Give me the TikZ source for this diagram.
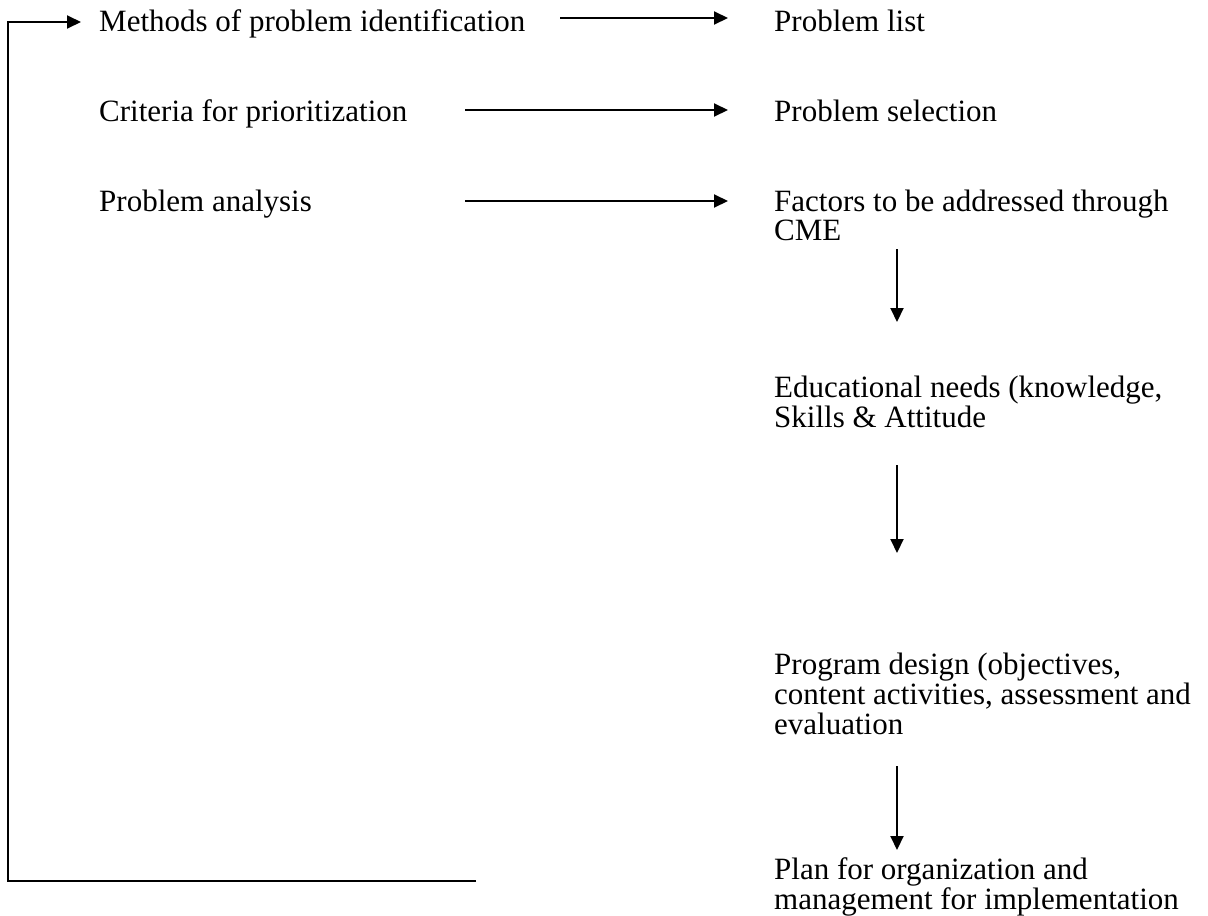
\documentclass[tikz,border=0pt]{standalone}
\usepackage{fontspec}
\setmainfont{Liberation Serif}
\usetikzlibrary{arrows.meta}
\begin{document}
\begin{tikzpicture}[x=1pt,y=-1pt,
  lbl/.style={anchor=base west,inner sep=0pt,font=\fontsize{31}{29}\selectfont},
  arr/.style={line width=2pt,-{Triangle[length=14pt,width=13pt]}},
  wire/.style={line width=2pt}]
\useasboundingbox (0,0) rectangle (1208,916);
\newcommand{\lines}[1]{\begin{tabular}[t]{@{}l@{}}#1\end{tabular}}

% left column: inputs
\node[lbl] (m1) at (99,31)  {Methods of problem identification};
\node[lbl] (m2) at (99,121) {Criteria for prioritization};
\node[lbl] (m3) at (99,211) {Problem analysis};

% right column: outputs and the planning chain
\node[lbl] (t1) at (774,31)  {Problem list};
\node[lbl] (t2) at (774,121) {Problem selection};
\node[lbl] (t3) at (774,211) {\lines{Factors to be addressed through\\CME}};
\node[lbl] (t4) at (774,397) {\lines{Educational needs (knowledge,\\Skills \& Attitude}};
\node[lbl] (t5) at (774,674) {\lines{Program design (objectives,\\content activities, assessment and\\evaluation}};
\node[lbl] (t6) at (774,879) {\lines{Plan for organization and\\management for implementation}};

% horizontal links
\coordinate (h1) at (560,18);
\coordinate (h2) at (465,110);
\coordinate (h3) at (465,201);
\draw[arr,shorten >=46pt] (h1) -- (h1 -| t1.west);
\draw[arr,shorten >=46pt] (h2) -- (h2 -| t2.west);
\draw[arr,shorten >=46pt] (h3) -- (h3 -| t3.west);

% vertical links
\coordinate (v1) at (897,249);
\coordinate (v1e) at (897,322);
\coordinate (v2) at (897,465);
\coordinate (v2e) at (897,553);
\coordinate (v3) at (897,766);
\coordinate (v3e) at (897,850);
\draw[arr] (v1) -- (v1e);
\draw[arr] (v2) -- (v2e);
\draw[arr] (v3) -- (v3e);

% feedback loop back to the start
\coordinate (fb) at (476,881);
\coordinate (fbl) at (8,881);
\coordinate (ftl) at (8,22);
\draw[arr,shorten >=18pt] (fb) -- (fbl) -- (ftl) -- (ftl -| m1.west);
\end{tikzpicture}
\end{document}
